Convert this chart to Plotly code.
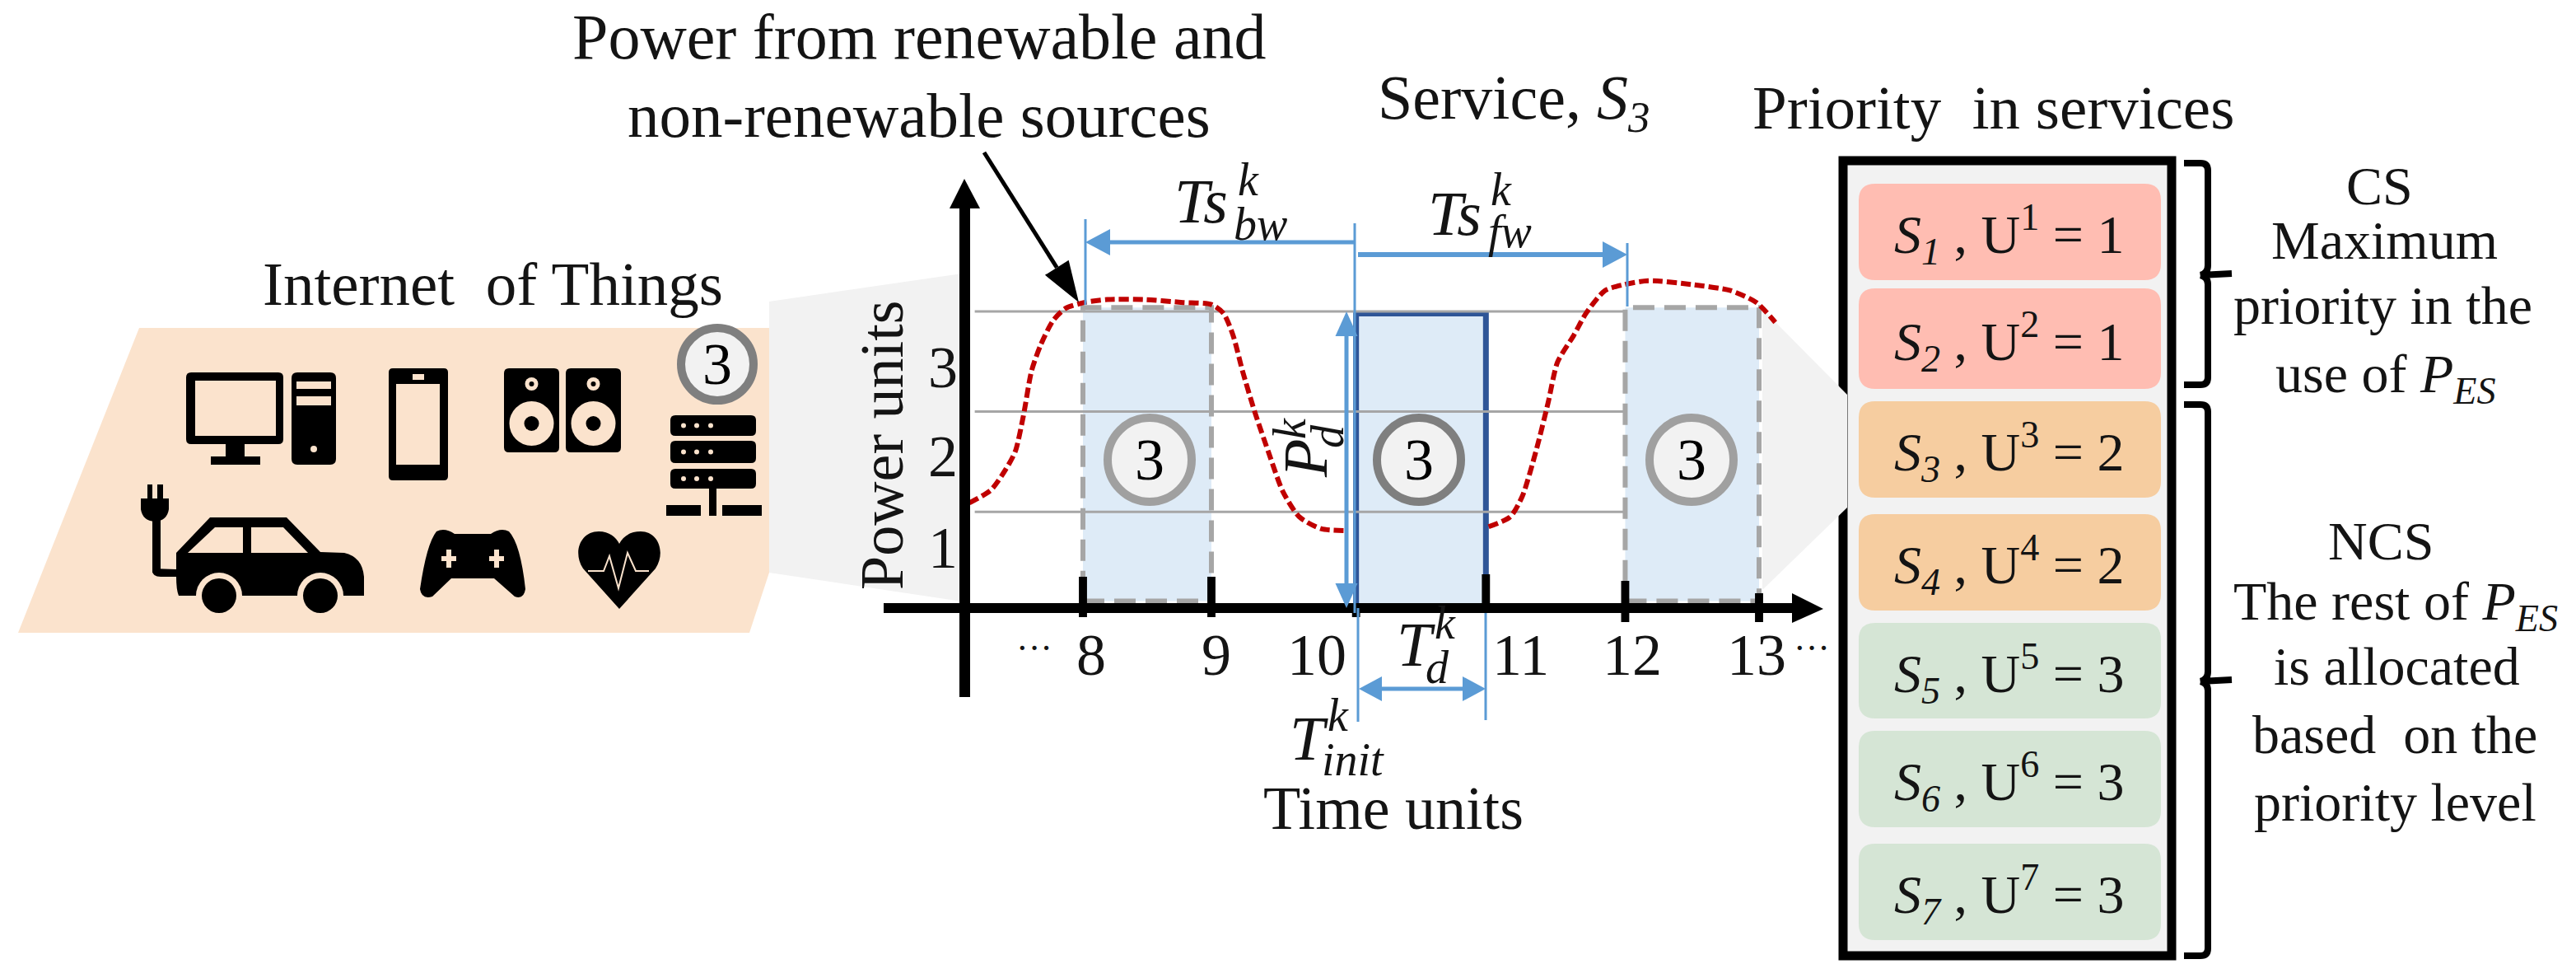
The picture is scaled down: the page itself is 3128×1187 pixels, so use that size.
import math
import plotly.graph_objects as go

W, H = 3128, 1187

# values
curve_left_time = [7.16, 7.32, 7.43, 7.50, 7.56, 7.62, 7.69, 7.78, 7.87, 8.01, 8.18, 8.46, 8.74, 8.95,
                   9.04, 9.11, 9.18, 9.27, 9.37, 9.48, 9.60, 9.76, 9.96]
curve_left_power = [1.06, 1.19, 1.40, 1.58, 1.94, 2.39, 2.66, 2.90, 3.02, 3.08, 3.11, 3.11, 3.08, 3.06,
                    2.97, 2.75, 2.39, 1.98, 1.58, 1.17, 0.92, 0.80, 0.78]
curve_right_time = [11.00, 11.16, 11.25, 11.35, 11.44, 11.51, 11.63, 11.72, 11.86, 12.00, 12.18, 12.51,
                    12.79, 12.98, 13.12]
curve_right_power = [0.82, 0.92, 1.13, 1.58, 2.07, 2.48, 2.75, 2.97, 3.20, 3.26, 3.30, 3.26, 3.20, 3.08,
                     2.88]
grid_power = [0.97, 1.98, 2.99]
grid_time = [7.2, 12.0]
tick_times = [8, 8.95, 10.02, 10.98, 12.01, 13]
tick_labels = ["8", "9", "10", "11", "12", "13"]
tick_label_px = [1325, 1477, 1599, 1846, 1982, 2133]
power_labels = ["1", "2", "3"]
power_label_py = [665, 554, 446]
window_start = [8, 10.02, 12.01]
window_end = [8.95, 10.98, 13]
service_ids = [1, 2, 3, 4, 5, 6, 7]
service_priority = [1, 1, 2, 2, 3, 3, 3]
priority_colors = {1: "#ffbdb2", 2: "#f6cda0", 3: "#d5e5d5"}
row_tops = [223, 350, 487, 624, 756, 887, 1024]
row_bottoms = [340, 472, 604, 741, 872, 1004, 1141]

BLUE = "#5b9bd5"
GRAY = "#f2f2f2"
PEACH = "#fbe3cd"
SERIF = "Liberation Serif"

shapes = []
annotations = []


def poly(points, fill="black", layer="below"):
    path = "M" + " L".join(f"{x},{y}" for x, y in points) + " Z"
    shapes.append(dict(type="path", path=path, fillcolor=fill, line=dict(width=0), layer=layer))


def path(d, fill="black", layer="below"):
    shapes.append(dict(type="path", path=d, fillcolor=fill, line=dict(width=0), layer=layer))


def stroke(d, color="black", width=4, layer="below"):
    shapes.append(dict(type="path", path=d, line=dict(color=color, width=width), layer=layer))


def rect(x0, y0, x1, y1, fill="black", layer="below"):
    shapes.append(dict(type="rect", x0=x0, y0=y0, x1=x1, y1=y1, fillcolor=fill, line=dict(width=0), layer=layer))


def disc(cx, cy, r, fill="black", layer="below", line=None):
    shapes.append(dict(type="circle", x0=cx - r, y0=cy - r, x1=cx + r, y1=cy + r, fillcolor=fill,
                       line=line or dict(width=0), layer=layer))


def rounded(x0, y0, x1, y1, r):
    return (f"M{x0 + r},{y0} L{x1 - r},{y0} Q{x1},{y0} {x1},{y0 + r} L{x1},{y1 - r} Q{x1},{y1} {x1 - r},{y1} "
            f"L{x0 + r},{y1} Q{x0},{y1} {x0},{y1 - r} L{x0},{y0 + r} Q{x0},{y0} {x0 + r},{y0} Z")


def arrow_head(x0, y0, x1, y1, length, width, color):
    a = math.atan2(y1 - y0, x1 - x0)
    bx, by = x1 - length * math.cos(a), y1 - length * math.sin(a)
    nx, ny = -math.sin(a) * width / 2, math.cos(a) * width / 2
    poly([(x1, y1), (bx + nx, by + ny), (bx - nx, by - ny)], color, "above")
    return bx, by


def arrow(x0, y0, x1, y1, color=BLUE, width=5, length=30, head=32, both=False):
    bx, by = arrow_head(x0, y0, x1, y1, length, head, color)
    sx, sy = x0, y0
    if both:
        sx, sy = arrow_head(x1, y1, x0, y0, length, head, color)
    stroke(f"M{sx},{sy} L{bx},{by}", color, width, "above")


def label(x, y, text, size=70, angle=0, anchor="center", color="#141414"):
    annotations.append(dict(x=x, y=y, xref="x", yref="y", text=text, showarrow=False, textangle=angle,
                            xanchor=anchor, yanchor="middle", align="center",
                            font=dict(family=SERIF, size=size, color=color)))


def badge(cx, cy, r, edge):
    disc(cx, cy, r, GRAY, "above", dict(color=edge, width=10))
    label(cx, cy, "3", 72, color="black")


# --- IoT panel and zoom wedges
poly([(169, 398), (934, 398), (934, 695), (910, 768), (22, 768)], PEACH)
poly([(934, 366), (1168, 332), (1168, 730), (934, 695)], GRAY)

# monitor and tower
path(rounded(226, 452, 344, 539, 6))
rect(237, 462, 335, 529, PEACH)
rect(274, 539, 297, 556)
rect(256, 554, 316, 564)
path(rounded(354, 452, 408, 564, 7))
rect(360, 463, 402, 472, PEACH)
rect(360, 481, 402, 492, PEACH)
disc(381, 545, 4, PEACH)

# phone
path(rounded(472, 447, 544, 583, 5))
rect(481, 466, 534, 564, PEACH)
rect(501, 454, 515, 461, PEACH)

# speakers
for x0, x1 in [(612, 679), (687, 754)]:
    path(rounded(x0, 447, x1, 549, 6))
    cx = (x0 + x1) / 2
    disc(cx, 514, 27, PEACH)
    disc(cx, 514, 9)
    disc(cx, 466, 8, PEACH)
    disc(cx, 466, 3)

# server
for y0, y1 in [(504, 529), (535, 562), (569, 593)]:
    path(rounded(814, y0, 918, y1, 6))
    for x in [830, 846, 863]:
        disc(x, (y0 + y1) / 2, 3, PEACH)
rect(861, 593, 870, 626)
rect(809, 613, 851, 626)
rect(877, 613, 925, 626)

# car with plug
path("M214,671 L255,628 L348,628 L389,670 L418,671 Q440,676 442,700 L442,723 L217,723 Q214,716 214,700 Z")
poly([(228, 671), (261, 640), (295, 640), (295, 671)], PEACH)
poly([(305, 640), (344, 640), (374, 671), (305, 671)], PEACH)
for cx in [266, 389]:
    disc(cx, 723, 28, PEACH)
    disc(cx, 723, 21)
rect(185, 630, 195, 695)
path("M185,690 L214,691 L214,700 L195,700 Q185,700 185,692 Z")
path("M171,605 L205,605 L205,618 Q203,632 188,633 Q173,632 171,618 Z")
rect(179, 588, 185, 607)
rect(191, 588, 198, 607)

# gamepad
path("M530,645 Q540,640 552,648 L596,648 Q608,640 618,645 Q632,660 638,715 Q636,728 625,724 "
     "L600,702 L548,702 L525,724 Q512,728 510,715 Q518,660 530,645 Z")
for cx in [545, 603]:
    rect(cx - 9, 675, cx + 9, 681, PEACH)
    rect(cx - 3, 667, cx + 3, 689, PEACH)

# heart
path("M752,739 L708,690 C695,670 705,645 727,645 C740,645 748,652 752,660 "
     "C756,652 764,645 778,645 C799,645 809,670 796,690 Z")
stroke("M714,693 L733,693 L740,675 L751,714 L762,671 L772,693 L788,693", PEACH, 2)

badge(871, 442, 44, "#7f7f7f")

# --- priority column
shapes.append(dict(type="rect", x0=2238, y0=195, x1=2637, y1=1160, fillcolor=GRAY,
                   line=dict(color="black", width=11), layer="below"))
poly([(2140, 375), (2243, 479), (2243, 616), (2140, 716)], GRAY)
for sid, pri, top, bottom in zip(service_ids, service_priority, row_tops, row_bottoms):
    path(rounded(2257, top, 2624, bottom, 20), priority_colors[pri])
    label(2298, (top + bottom) / 2 + 3, f"<i>S<sub>{sid}</sub></i> , U<sup>{sid}</sup> = {pri}", 66, anchor="left")

# braces
stroke("M2652,198 L2672,198 Q2681,198 2681,207 L2681,322 Q2681,332 2672,334 L2710,332 "
       "M2672,334 Q2681,336 2681,345 L2681,458 Q2681,467 2672,467 L2652,467", width=8)
stroke("M2652,491 L2672,491 Q2681,491 2681,500 L2681,815 Q2681,825 2672,827 L2710,825 "
       "M2672,827 Q2681,829 2681,838 L2681,1151 Q2681,1160 2672,1160 L2652,1160", width=8)

# --- service windows on the time / power scale
for i, (start, end) in enumerate(zip(window_start, window_end)):
    current = i == 1
    shapes.append(dict(type="rect", xref="x2", yref="y2", x0=start, x1=end,
                       y0=0 if current else 0.07, y1=2.97 if current else 3.03, fillcolor="#deebf7",
                       line=dict(color="#2f5597", width=7) if current
                       else dict(color="#a6a6a6", width=6, dash="26px,12px"), layer="below"))

# axes and ticks
rect(1165, 253, 1178, 846, layer="above")
poly([(1171, 217), (1190, 253), (1153, 253)], layer="above")
rect(1073, 732, 2180, 744, layer="above")
poly([(2214, 739), (2176, 720), (2176, 756)], layer="above")
tick_tops = [700, 700, 738, 697, 705, 720]
tick_bottoms = [749, 749, 749, 744, 755, 755]
for t, top, bottom in zip(tick_times, tick_tops, tick_bottoms):
    shapes.append(dict(type="rect", xref="x2", yref="y", x0=t - 0.03, x1=t + 0.03, y0=top, y1=bottom,
                       fillcolor="black", line=dict(width=0), layer="above"))

for text, x in zip(tick_labels, tick_label_px):
    label(x, 795, text, 72)
for text, y in zip(power_labels, power_label_py):
    label(1145, y, text, 72)
label(1256, 786, "···", 44)
label(2200, 786, "···", 44)
label(1071, 540, "Power units", 74, angle=-90)
label(1692, 981, "Time units", 74)

# helper lines and dimension arrows
for x, y0, y1 in [(1318, 266, 370), (1645, 271, 744), (1649, 738, 876), (1804, 744, 874), (1976, 295, 372)]:
    stroke(f"M{x},{y0} L{x},{y1}", BLUE, 3, "above")
arrow(1645, 294, 1318, 294, width=5)
arrow(1649, 309, 1976, 309, width=6)
arrow(1635, 378, 1635, 738, width=5, length=30, head=27, both=True)
arrow(1650, 836, 1804, 836, width=5, length=28, head=30, both=True)
arrow(1195, 185, 1310, 367, color="black", width=5, length=50, head=34)

# chart symbols
label(1458, 244, "<i>Ts</i>", 76)
label(1516, 218, "<i>k</i>", 56)
label(1530, 272, "<i>bw</i>", 56)
label(1766, 259, "<i>Ts</i>", 76)
label(1823, 230, "<i>k</i>", 56)
label(1833, 281, "<i>fw</i>", 56)
label(1719, 782, "<i>T</i>", 76)
label(1755, 756, "<i>k</i>", 56)
label(1745, 810, "<i>d</i>", 56)
label(1589, 896, "<i>T</i>", 76)
label(1625, 868, "<i>k</i>", 56)
label(1643, 922, "<i>init</i>", 56)
label(1585, 557, "<i>P</i>", 76, angle=-90)
label(1566, 520, "<i>k</i>", 56, angle=-90)
label(1612, 530, "<i>d</i>", 56, angle=-90)

for cx, edge in zip([1396, 1723, 2054], ["#a0a0a0", "#7f7f7f", "#a0a0a0"]):
    badge(cx, 558, 51, edge)

# headings
label(1116, 44, "Power from renewable and", 78)
label(1116, 140, "non-renewable sources", 77)
label(1838, 124, "Service, <i>S<sub>3</sub></i>", 76)
label(2420, 130, "Priority  in services", 75)
label(598, 344, "Internet  of Things", 75)

side_text = [("CS", 225), ("Maximum", 291), ("priority in the", 370), ("use of <i>P<sub>ES</sub></i>", 458),
             ("NCS", 656), ("The rest of <i>P<sub>ES</sub></i>", 734), ("is allocated", 808),
             ("based  on the", 891), ("priority level", 973)]
side_x = [2889, 2895, 2893, 2897, 2891, 2909, 2910, 2908, 2908]
for (text, y), x in zip(side_text, side_x):
    label(x, y, text, 66)

fig = go.Figure()
fig.add_trace(go.Scatter(x=[0], y=[0], mode="markers", marker=dict(opacity=0), xaxis="x", yaxis="y",
                         hoverinfo="skip"))
for p in grid_power:
    fig.add_trace(go.Scatter(x=grid_time, y=[p, p], mode="lines", line=dict(color="#a6a6a6", width=3),
                             xaxis="x2", yaxis="y2"))
curve_line = dict(color="#c00000", width=6, dash="12px,5px", shape="spline", smoothing=0.7)
fig.add_trace(go.Scatter(x=curve_left_time, y=curve_left_power, mode="lines", line=curve_line,
                         xaxis="x2", yaxis="y2"))
fig.add_trace(go.Scatter(x=curve_right_time, y=curve_right_power, mode="lines", line=curve_line,
                         xaxis="x2", yaxis="y2"))

# time 8 sits at x=1315 px with 164.2 px per unit, power 0 at y=738 px with 120.4 px per unit
hidden = dict(visible=False, showgrid=False, zeroline=False)
fig.update_layout(
    width=W, height=H, margin=dict(l=0, r=0, t=0, b=0), autosize=False,
    paper_bgcolor="white", plot_bgcolor="rgba(0,0,0,0)", showlegend=False,
    xaxis=dict(range=[0, W], domain=[0, 1], **hidden),
    yaxis=dict(range=[H, 0], domain=[0, 1], **hidden),
    xaxis2=dict(range=[8 - 1315 / 164.2, 8 + (W - 1315) / 164.2], domain=[0, 1], anchor="y2", **hidden),
    yaxis2=dict(range=[-(H - 738) / 120.4, 738 / 120.4], domain=[0, 1], anchor="x2", **hidden),
    shapes=shapes, annotations=annotations,
)

fig.write_html("out.html", config=dict(displayModeBar=False),
               post_script="document.body.style.margin='0';")
